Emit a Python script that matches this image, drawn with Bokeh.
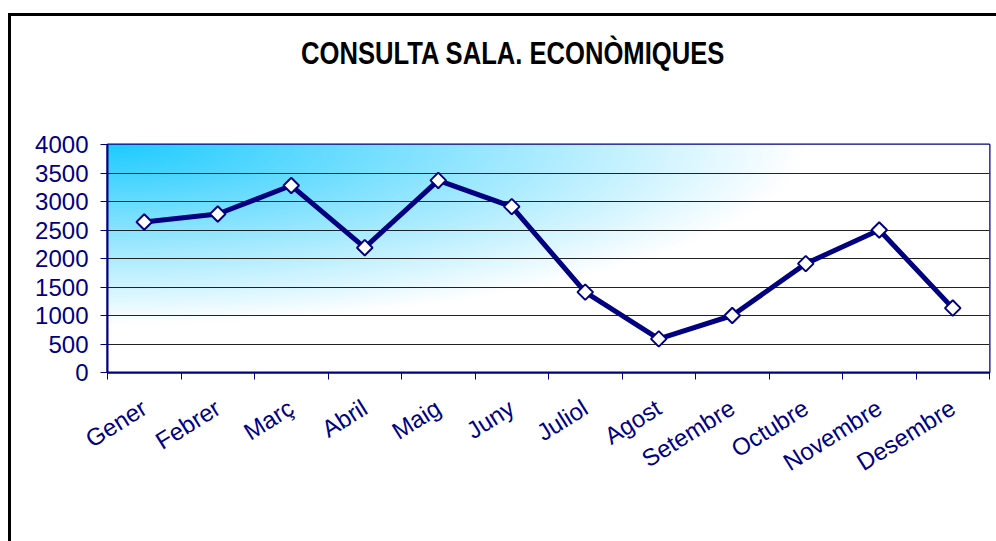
import numpy as np
from bokeh.plotting import figure
from bokeh.models import FixedTicker, Range1d, Div
from bokeh.layouts import column
from bokeh.embed import file_html
from bokeh.resources import INLINE

months = ["Gener", "Febrer", "Març", "Abril", "Maig", "Juny", "Juliol",
          "Agost", "Setembre", "Octubre", "Novembre", "Desembre"]
values = [2640, 2780, 3280, 2190, 3370, 2910, 1410, 590, 1000, 1910, 2500, 1130]
y_ticks = [0, 500, 1000, 1500, 2000, 2500, 3000, 3500, 4000]
title_text = "CONSULTA SALA. ECONÒMIQUES"

NAVY = "#000080"
n = len(months)
xs = [i + 0.5 for i in range(n)]

title_div = Div(
    text=('<div style="position:absolute; left:285px; top:10px; white-space:nowrap; '
          'font-family:\'Liberation Sans\', Arial, sans-serif; font-weight:bold; '
          'font-size:32px; color:black; transform:scaleX(0.8); '
          'transform-origin:0 0;">' + title_text + '</div>'),
    width=985, height=96, styles={"position": "relative"})

p = figure(width=985, height=419, output_backend="svg", toolbar_location=None,
           x_range=Range1d(0, n), y_range=Range1d(0, y_ticks[-1]),
           min_border_left=96, min_border_right=7, min_border_top=22,
           min_border_bottom=169)

# gradient background (from top-left corner)
H, W = 120, 400
u = np.linspace(0, 1, W)[None, :]
v = np.linspace(1, 0, H)[:, None]
t = np.clip(1.27 * np.sqrt(u ** 2 + v ** 2), 0, 1)
c0 = np.array([0x1e, 0xcb, 0xff])
c1 = np.array([0xff, 0xff, 0xff])
rgb = (c0[None, None, :] * (1 - t[..., None]) + c1[None, None, :] * t[..., None]).astype(np.uint32)
img = np.zeros((H, W), dtype=np.uint32)
view = img.view(dtype=np.uint8).reshape((H, W, 4))
view[..., 0] = rgb[..., 0]
view[..., 1] = rgb[..., 1]
view[..., 2] = rgb[..., 2]
view[..., 3] = 255
p.image_rgba(image=[img], x=0, y=0, dw=n, dh=y_ticks[-1], level="image")

p.line(xs, values, line_color=NAVY, line_width=5)
p.scatter(xs, values, marker="square", angle=np.pi / 4, size=11,
          fill_color="white", line_color=NAVY, line_width=2)

p.outline_line_color = NAVY
p.outline_line_width = 2

p.xgrid.visible = False
p.ygrid.grid_line_color = "#222222"
p.ygrid.grid_line_width = 1
p.ygrid.ticker = FixedTicker(ticks=y_ticks)

p.yaxis.ticker = FixedTicker(ticks=y_ticks)
p.yaxis.axis_line_color = NAVY
p.yaxis.axis_line_width = 2
p.yaxis.major_tick_line_color = NAVY
p.yaxis.major_tick_out = 7
p.yaxis.major_tick_in = 0
p.yaxis.minor_tick_line_color = None
p.yaxis.major_label_text_font = "Liberation Sans"
p.yaxis.major_label_text_font_size = "24px"
p.yaxis.major_label_text_color = NAVY
p.yaxis.major_label_standoff = 12

p.xaxis.ticker = FixedTicker(ticks=xs, minor_ticks=list(range(n + 1)))
p.xaxis.major_label_overrides = {x: m for x, m in zip(xs, months)}
p.xaxis.axis_line_color = NAVY
p.xaxis.axis_line_width = 2
p.xaxis.major_tick_line_color = None
p.xaxis.minor_tick_line_color = NAVY
p.xaxis.minor_tick_out = 7
p.xaxis.minor_tick_in = 0
p.xaxis.major_label_orientation = 0.56
p.xaxis.major_label_text_font = "Liberation Sans"
p.xaxis.major_label_text_font_size = "24px"
p.xaxis.major_label_text_color = NAVY
p.xaxis.major_label_standoff = 26

layout = column(title_div, p, spacing=0,
                styles={"border-top": "3px solid black",
                        "border-left": "3px solid black",
                        "margin-top": "13px", "margin-left": "8px",
                        "background-color": "white"})

open("out.html", "w").write(file_html(layout, INLINE))
